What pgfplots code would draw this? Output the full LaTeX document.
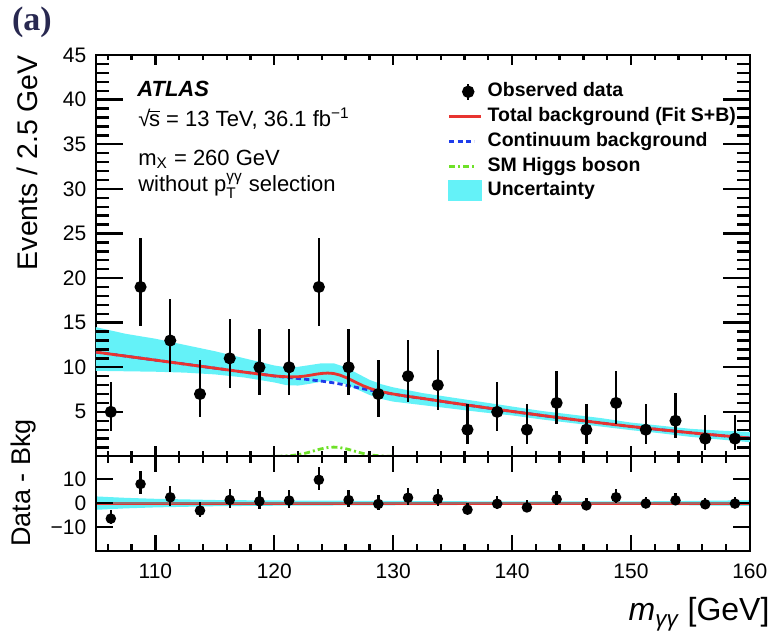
\documentclass[border=0pt]{standalone}
\usepackage{fontspec}
\setmainfont{Liberation Sans}
\newfontfamily\serifbf{Liberation Serif}
\usepackage{amsmath}
\usepackage{pgfplots}
\pgfplotsset{compat=1.18}
\usepackage{pgfplotstable}

\definecolor{bandc}{RGB}{100,242,248}
\definecolor{redc}{RGB}{232,52,48}
\definecolor{bluec}{RGB}{30,60,235}
\definecolor{greenc}{RGB}{110,225,40}
\definecolor{labc}{RGB}{40,40,80}

\pgfplotstableread{
x n em ep r
106.25 5 2.16 3.38 -6.47
108.75 19 4.32 5.44 7.98
111.25 13 3.56 4.70 2.43
113.75 7 2.58 3.77 -3.12
116.25 11 3.27 4.42 1.33
118.75 10 3.11 4.27 0.76
121.25 10 3.11 4.27 1.07
123.75 19 4.32 5.44 9.73
126.25 10 3.11 4.27 1.28
128.75 7 2.58 3.77 -0.35
131.25 9 2.94 4.11 2.26
133.75 8 2.77 3.95 1.75
136.25 3 1.63 2.92 -2.76
138.75 5 2.16 3.38 -0.28
141.25 3 1.63 2.92 -1.82
143.75 6 2.38 3.58 1.62
146.25 3 1.63 2.92 -0.96
148.75 6 2.38 3.58 2.45
151.25 3 1.63 2.92 -0.18
153.75 4 1.91 3.16 1.17
156.25 2 1.29 2.64 -0.50
158.75 2 1.29 2.64 -0.20
}\datatab

\pgfplotstableread{
x b t
105 11.70 11.70
107.5 11.25 11.25
110 10.80 10.80
112.5 10.35 10.35
115 9.90 9.90
117.5 9.45 9.45
119 9.20 9.20
120 9.02 9.03
120.5 8.95 8.98
121 8.88 8.94
121.5 8.81 8.92
122 8.74 8.94
122.5 8.67 9.00
123 8.60 9.10
123.5 8.52 9.22
124 8.44 9.31
124.5 8.35 9.35
125 8.25 9.30
125.5 8.13 9.13
126 8.00 8.87
126.5 7.86 8.56
127 7.72 8.22
127.5 7.58 7.91
128 7.45 7.65
128.5 7.33 7.44
129 7.21 7.27
129.5 7.10 7.13
130 6.99 7.00
131 6.78 6.78
132.5 6.50 6.50
135 6.00 6.00
137.5 5.52 5.52
140 5.05 5.05
142.5 4.60 4.60
145 4.17 4.17
147.5 3.75 3.75
150 3.36 3.36
152.5 3.00 3.00
155 2.66 2.66
157.5 2.35 2.35
160 2.07 2.07
}\bkgtab

\pgfplotstableread{
x h
119 0.00
120 0.01
120.5 0.03
121 0.06
121.5 0.11
122 0.20
122.5 0.33
123 0.50
123.5 0.70
124 0.87
124.5 1.00
125 1.05
125.5 1.00
126 0.87
126.5 0.70
127 0.50
127.5 0.33
128 0.20
128.5 0.11
129 0.06
129.5 0.03
130 0.01
131 0.00
}\higgstab

\pgfplotsset{every axis/.append style={line width=1pt}}
\pgfplotsset{geom/.style={
  scale only axis, width=327pt, xmin=105, xmax=160,
  /pgf/number format/assume math mode=true,
  ticklabel style={font=\fontsize{10.5}{12}\selectfont},
}}

\begin{document}
\begin{tikzpicture}

% ---------- top panel (y tick labels, plots, legend)
\begin{axis}[geom, name=top, at={(0,0)}, anchor=south west,
  height=200.75pt, ymin=0, ymax=45,
  ytick={5,10,...,45}, minor ytick={1,2,...,44},
  xtick=\empty,
  major tick length=13.5pt, minor tick length=6.5pt,
  yticklabel style={xshift=-1pt},
  legend cell align=left,
  legend style={at={(rel axis cs:0.538,0.936)}, anchor=north west, draw=none, fill=none,
    inner sep=0pt, outer sep=0pt, row sep=1.4pt, column sep=2pt,
    nodes={inner sep=0.5pt, text height=7.5pt, text depth=2.5pt},
    font=\fontsize{9.75}{11}\selectfont\bfseries},
]
\addlegendimage{legend image code/.code={
  \path[draw=none] (0pt,0pt) rectangle (16pt,0.1pt);
  \draw[black, line width=1.2pt] (9.5pt,-4pt) -- (9.5pt,4pt);
  \fill[black] (9.5pt,0pt) circle (2.6pt);}}
\addlegendentry{Observed data}
\addlegendimage{legend image code/.code={
  \draw[redc, line width=1.5pt] (0pt,0pt) -- (16pt,0pt);}}
\addlegendentry{Total background (Fit S+B)}
\addlegendimage{legend image code/.code={
  \path[draw=none] (0pt,0pt) rectangle (16pt,0.1pt);
  \draw[bluec, line width=1.5pt, dash pattern=on 2.6pt off 1.6pt] (0pt,0pt) -- (12.6pt,0pt);}}
\addlegendentry{Continuum background}
\addlegendimage{legend image code/.code={
  \path[draw=none] (0pt,0pt) rectangle (16pt,0.1pt);
  \draw[greenc, line width=1.5pt, dash pattern=on 3pt off 1.5pt on 1pt off 1.5pt] (0pt,0pt) -- (14pt,0pt);}}
\addlegendentry{SM Higgs boson}
\addlegendimage{legend image code/.code={
  \fill[bandc] (0pt,-4.75pt) rectangle (16pt,4.75pt);}}
\addlegendentry{Uncertainty}

\addplot[fill=bandc, draw=none, forget plot] coordinates {
(105,14.5) (107.5,13.75) (110,13.2) (112.5,12.5) (115,11.8) (117.5,11.0) (120,10.2) (121,10.0) (122,10.05) (123,10.25) (124,10.45) (125,10.45) (126,10.0) (127,9.3) (128,8.6) (129,8.1) (130,7.75) (132.5,7.1) (135,6.6) (137.5,6.1) (140,5.6) (142.5,5.1) (145,4.7) (147.5,4.3) (150,3.8) (152.5,3.45) (155,3.1) (157.5,2.9) (160,2.75)
(160,1.6) (157.5,1.9) (155,2.2) (152.5,2.6) (150,2.95) (147.5,3.35) (145,3.75) (142.5,4.15) (140,4.6) (137.5,4.95) (135,5.35) (132.5,5.75) (130,6.15) (129,6.45) (128,6.9) (127,7.5) (126,8.1) (125,8.5) (124,8.4) (123,8.15) (122,7.95) (121,8.0) (120,8.3) (117.5,8.85) (115,9.2) (112.5,9.4) (110,9.5) (107.5,9.55) (105,9.6)
} -- cycle;

\addplot[bluec, line width=1.4pt, dash pattern=on 2.6pt off 1.6pt, forget plot] table[x=x, y=b] {\bkgtab};
\addplot[redc, line width=1.4pt, forget plot] table[x=x, y=t] {\bkgtab};
\addplot[greenc, line width=1.4pt, dash pattern=on 3pt off 1.5pt on 1pt off 1.5pt, forget plot] table[x=x, y=h] {\higgstab};

\addplot[only marks, mark=*, mark size=2.5pt, black, forget plot,
  error bars/.cd, y dir=both, y explicit, error mark=none,
  error bar style={line width=1.2pt, black}]
  table[x=x, y=n, y error plus=ep, y error minus=em] {\datatab};
\end{axis}

% ---------- bottom panel (y tick labels, plots)
\begin{axis}[geom, name=bot, at={(0,0)}, anchor=north west,
  height=47.25pt, ymin=-20, ymax=19.5,
  ytick={-10,0,10}, yticklabels={−10,0,10},
  xtick=\empty,
  major tick length=8.5pt,
  yticklabel style={xshift=-1pt},
]
\addplot[fill=bandc, draw=none] coordinates {
(105,2.8) (107.5,2.2) (110,1.8) (115,1.3) (120,1.1) (130,0.9) (140,0.7) (150,0.7) (155,0.9) (160,1.2)
(160,-1.2) (155,-0.9) (150,-0.7) (140,-0.7) (130,-0.9) (120,-1.1) (115,-1.3) (110,-1.8) (107.5,-2.2) (105,-2.8)
} -- cycle;
\addplot[redc, line width=1.4pt] coordinates {(105,0) (160,0)};
\addplot[black!50, opacity=0.75, line width=1.3pt] coordinates {(105,0) (160,0)};
\addplot[only marks, mark=*, mark size=2.1pt, black,
  error bars/.cd, y dir=both, y explicit, error mark=none,
  error bar style={line width=1.2pt, black}]
  table[x=x, y=r, y error plus=ep, y error minus=em] {\datatab};
\end{axis}

% ---------- bottom panel (x tick labels)
\begin{axis}[geom, at={(0,0)}, anchor=north west,
  height=47.25pt, ymin=-20, ymax=19.5,
  ytick=\empty,
  xtick={110,120,...,160}, minor xtick={106,108,...,158},
  major tick length=8pt, minor tick length=3.5pt,
  xticklabel style={yshift=-2.5pt},
]
\end{axis}

% ---------- ROOT-style inside ticks on all frame edges
\begin{scope}[line width=1.2pt, black, line cap=butt]
\foreach \x [evaluate=\x as \px using (\x-105)*5.94545] in {110,120,130,140,150} {
  \draw (\px pt,0pt) -- ++(0pt,5pt);
  \draw (\px pt,200.75pt) -- ++(0pt,-5pt);
  \draw (\px pt,0pt) -- ++(0pt,-8pt);
  \draw (\px pt,-47.25pt) -- ++(0pt,8pt);
}
\foreach \x [evaluate=\x as \px using (\x-105)*5.94545] in {106,108,112,114,116,118,122,124,126,128,132,134,136,138,142,144,146,148,152,154,156,158} {
  \draw (\px pt,0pt) -- ++(0pt,2.5pt);
  \draw (\px pt,200.75pt) -- ++(0pt,-2.5pt);
  \draw (\px pt,0pt) -- ++(0pt,-3.5pt);
  \draw (\px pt,-47.25pt) -- ++(0pt,3.5pt);
}
\foreach \y [evaluate=\y as \py using \y*4.46111] in {5,10,15,20,25,30,35,40} {
  \draw (0pt,\py pt) -- ++(13.5pt,0pt);
  \draw (327pt,\py pt) -- ++(-13.5pt,0pt);
}
\foreach \y [evaluate=\y as \py using \y*4.46111] in {1,2,3,4,6,7,8,9,11,12,13,14,16,17,18,19,21,22,23,24,26,27,28,29,31,32,33,34,36,37,38,39,41,42,43,44} {
  \draw (0pt,\py pt) -- ++(6.5pt,0pt);
  \draw (327pt,\py pt) -- ++(-6.5pt,0pt);
}
\foreach \py in {-35.292,-23.33,-11.368} {
  \draw (0pt,\py pt) -- ++(8.5pt,0pt);
  \draw (327pt,\py pt) -- ++(-8.5pt,0pt);
}
\end{scope}

% labels
\node[font=\serifbf\bfseries\fontsize{17}{20}\selectfont, text=labc] at (-32pt,217.25pt) {(a)};
\node[rotate=90, anchor=base east, font=\fontsize{14.2}{16}\selectfont, inner sep=0pt] at (-29pt,200.75pt) {Events / 2.5 GeV};
\node[rotate=90, anchor=base, font=\fontsize{13.5}{16}\selectfont, inner sep=0pt] at (-32.5pt,-13.25pt) {Data - Bkg};
\node[anchor=base east, font=\fontsize{16}{19}\selectfont, inner sep=0pt] at (337pt,-82.25pt) {{\itshape m}\textsubscript{\itshape γγ} [GeV]};

\begin{scope}[every node/.style={anchor=base west, inner sep=0pt, font=\fontsize{11}{13}\selectfont}]
\node at (20.5pt,179.9pt) {\bfseries\itshape ATLAS};
\node at (21pt,165.25pt) {\mbox{√\kern-0.06em$\overline{\mbox{s}}$} = 13 TeV, 36.1 fb\textsuperscript{−1}};
\node at (21pt,145.75pt) {m\textsubscript{X} = 260 GeV};
\node at (21pt,132.4pt) {without p$^{\text{γγ}}_{\text{T}}$ selection};
\end{scope}

\path[use as bounding box] (-48pt,-87.75pt) rectangle (339pt,228.25pt);
\end{tikzpicture}
\end{document}
